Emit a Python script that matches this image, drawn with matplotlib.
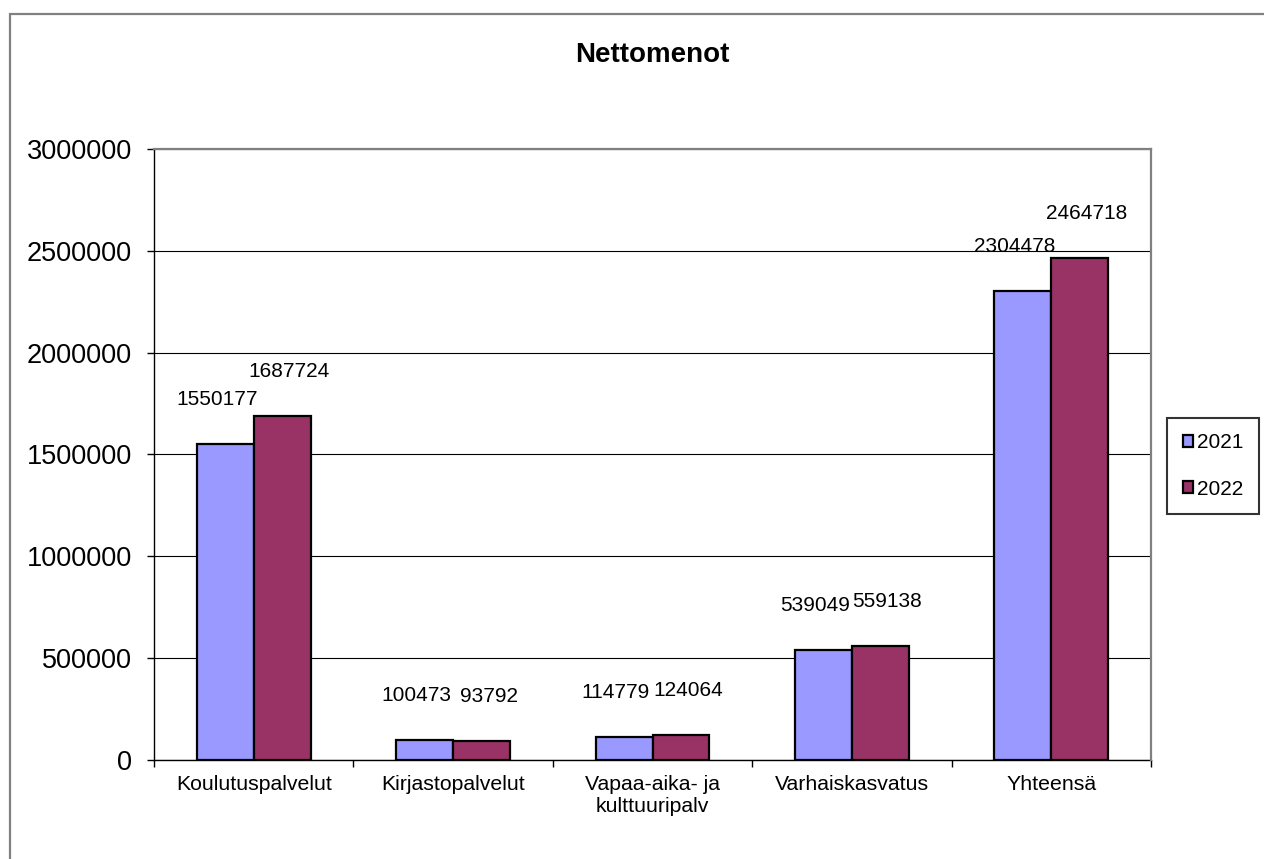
import numpy as np
import matplotlib
matplotlib.use("Agg")
import matplotlib.pyplot as plt
from matplotlib.patches import Rectangle

plt.rcParams['font.family'] = ['Liberation Sans', 'DejaVu Sans']

# data
categories = ["Koulutuspalvelut", "Kirjastopalvelut", "Vapaa-aika- ja\nkulttuuripalv",
              "Varhaiskasvatus", "Yhteensä"]
years = ["2021", "2022"]
values_2021 = [1550177, 100473, 114779, 539049, 2304478]
values_2022 = [1687724, 93792, 124064, 559138, 2464718]
yticks = [0, 500000, 1000000, 1500000, 2000000, 2500000, 3000000]

fig = plt.figure(figsize=(12.64, 8.59), dpi=100)
ax = fig.add_axes([154 / 1264, 1 - 760 / 859, (1151 - 154) / 1264, (760 - 149) / 859])

# outer chart border (runs off the right and bottom of the picture)
fig.patches.append(Rectangle((9.5 / 1264, -0.1), 1.2, 1 - 14 / 859 + 0.1,
                             transform=fig.transFigure, fill=False,
                             edgecolor="#808080", linewidth=1.6))

x = np.arange(len(categories))
w = 1 / 3.5  # gap width 150%
bars1 = ax.bar(x - w / 2, values_2021, w, color="#9999FF", edgecolor="black",
               linewidth=1.6, label=years[0], zorder=3)
bars2 = ax.bar(x + w / 2, values_2022, w, color="#993366", edgecolor="black",
               linewidth=1.6, label=years[1], zorder=3)

for bars, dx in [(bars1, -6), (bars2, 5)]:
    for b in bars:
        ax.annotate(str(int(b.get_height())), (b.get_x() + b.get_width() / 2, b.get_height()),
                    xytext=(dx, 32), textcoords="offset points", ha="center", va="center",
                    fontsize=15)

ax.set_xlim(-0.5, len(categories) - 0.5)
ax.set_ylim(0, 3000000)
ax.set_yticks(yticks)
ax.set_yticklabels([str(v) for v in yticks], fontsize=19.5)
ax.tick_params(axis="y", direction="out", length=5, width=1, pad=11)
ax.yaxis.grid(True, color="black", linewidth=0.8, zorder=0)
ax.set_axisbelow(True)

ax.set_xticks(np.arange(len(categories) + 1) - 0.5)
ax.set_xticklabels([])
ax.tick_params(axis="x", which="major", direction="out", length=5, width=1)
ax.set_xticks(x, minor=True)
ax.set_xticklabels(categories, minor=True, fontsize=15.3, linespacing=1.15)
ax.tick_params(axis="x", which="minor", length=0, pad=11)

for s in ["top", "right"]:
    ax.spines[s].set_color("#808080")
    ax.spines[s].set_linewidth(1.6)
    ax.spines[s].set_zorder(4)
for s in ["left", "bottom"]:
    ax.spines[s].set_color("black")
    ax.spines[s].set_linewidth(1.0)

fig.text(652 / 1264, 1 - 55 / 859, "Nettomenot", ha="center", va="center",
         fontsize=20, fontweight="bold")

leg = ax.legend(loc="center left", bbox_to_anchor=(1167 / 1264, 1 - 466 / 859),
                bbox_transform=fig.transFigure, fontsize=15, frameon=True,
                fancybox=False, edgecolor="black", handlelength=0.5, handleheight=0.5,
                handletextpad=0.2, labelspacing=1.3, borderpad=0.75, borderaxespad=0)
leg.get_frame().set_linewidth(1.5)

fig.savefig("out.png", dpi=100)
